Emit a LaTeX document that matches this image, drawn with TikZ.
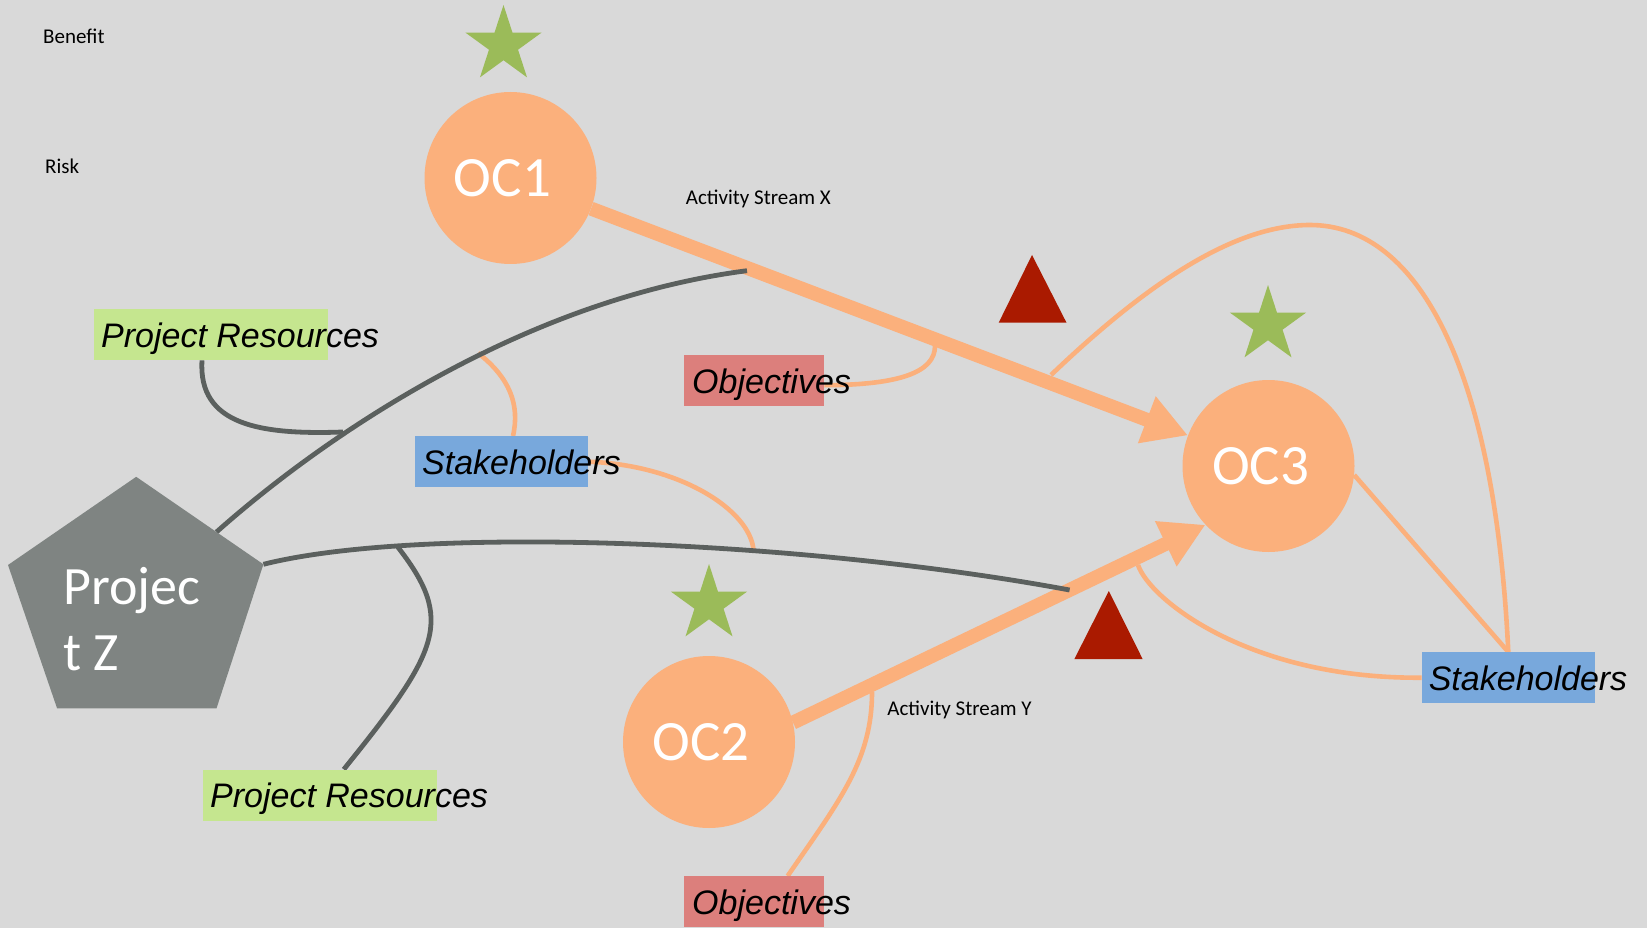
\documentclass[tikz,border=0pt]{standalone}
\usepackage{fontspec}
\setmainfont{Carlito}
\newfontfamily\arialf{Liberation Sans}
\usetikzlibrary{arrows.meta,shapes.geometric}
\definecolor{bgc}{HTML}{D9D9D9}
\definecolor{ocor}{HTML}{FBB07C}
\definecolor{stargreen}{HTML}{9BBB59}
\definecolor{trired}{HTML}{AA1A00}
\definecolor{pentgray}{HTML}{7F8482}
\definecolor{gline}{HTML}{5B605E}
\definecolor{prgreen}{HTML}{C5E68F}
\definecolor{shblue}{HTML}{78A8DC}
\definecolor{objred}{HTML}{DC7F7C}
\pgfdeclarelayer{back}
\pgfdeclarelayer{conn}
\pgfsetlayers{back,conn,main}
\tikzset{
  ocnode/.style={circle, fill=ocor, minimum size=172pt, inner sep=0pt, text=white, font=\fontsize{57}{60}\selectfont},
  lbl/.style={anchor=north west, inner sep=0pt, minimum height=51pt, text depth=0pt, font=\arialf\itshape\fontsize{34}{40}\selectfont},
  small/.style={anchor=base west, inner sep=0pt, font=\fontsize{21}{25}\selectfont},
  graycon/.style={draw=gline, line width=4.8pt},
  orcon/.style={draw=ocor, line width=4.6pt},
  bigarrow/.style={draw=ocor, line width=14pt, -{Triangle[length=44pt,width=47pt]}},
  starnode/.style={star, star points=5, star point ratio=2.618, fill=stargreen, inner sep=0pt, minimum size=80pt},
  tri/.style={fill=trired}
}
\begin{document}
\begin{tikzpicture}[x=1pt,y=-1pt]
\begin{pgfonlayer}{back}
\fill[bgc] (0,0) rectangle (1647,928);
\end{pgfonlayer}
\useasboundingbox (0,0) rectangle (1647,928);

% small texts
\node[small] (benefit) at (43,43.3) {Benefit};
\node[small] (risk) at (45,174) {Risk};
\node[small] (asx) at (685.7,204.3) {Activity Stream X};
\node[small] (asy) at (887.2,715.7) {Activity Stream Y};

% pentagon
\fill[pentgray] (136.2,476.8) -- (263.4,564.3) coordinate (pzr) -- (216.5,708.4) -- (57.1,708.4) -- (8,565) -- cycle;
\coordinate (pze) at (216.5,532);
\node[anchor=north west, align=left, inner sep=0pt, text=white, font=\fontsize{54}{65.7}\selectfont] (pz) at (63,567) {Projec\\t Z};

% circles
\node[ocnode] (oc1) at (510.5,178) {\hspace*{-16pt}OC1};
\node[ocnode] (oc3) at (1268.5,466) {\hspace*{-16pt}OC3};
\node[ocnode] (oc2) at (709,742) {\hspace*{-16pt}OC2};

% stars
\node[starnode] (st1) at (503.5,45) {};
\node[starnode] (st3) at (1268,325) {};
\node[starnode] (st2) at (709,604) {};

% triangles
\fill[tri] (1032,255) -- (1066.5,322.7) -- (998.7,322.7) -- cycle;
\fill[tri] (1108.8,591) -- (1142.6,659) -- (1074.4,659) -- cycle;

% labels
\node[lbl, fill=prgreen] (pr1) at (94,309) {\makebox[234pt][l]{\hspace*{7pt}Project Resources}};
\node[lbl, fill=prgreen] (pr2) at (203,769.4) {\makebox[234pt][l]{\hspace*{7pt}Project Resources}};
\node[lbl, fill=shblue] (sh1) at (415,436) {\makebox[173pt][l]{\hspace*{7pt}Stakeholders}};
\node[lbl, fill=shblue] (sh2) at (1421.6,652) {\makebox[173pt][l]{\hspace*{7pt}Stakeholders}};
\node[lbl, fill=objred] (obj1) at (684,355) {\makebox[140pt][l]{\hspace*{8pt}Objectives}};
\node[lbl, fill=objred] (obj2) at (684,876) {\makebox[140pt][l]{\hspace*{8pt}Objectives}};

% junction coordinates
\coordinate (g1e) at (747,270.7);
\coordinate (g2e) at (1069.6,590);
\coordinate (j1) at (343,432);
\coordinate (j2) at (397,546);
\coordinate (j3) at (478,353);
\coordinate (j4) at (753.5,550);
\coordinate (ja) at (935,346);
\coordinate (jb) at (1051,375);
\coordinate (jc) at (872,692);
\coordinate (jd) at (1138,565);

\begin{pgfonlayer}{conn}
% thin orange connectors
\draw[orcon] ([yshift=-4.5pt]obj1.east) .. controls (900,385) and (935,372) .. (ja);
\draw[orcon] (jb) .. controls (1140,290) and (1230,225) .. (1310,225)
                  .. controls (1420,225) and (1495,372) .. (sh2.north);
\draw[orcon] (oc3.-6) -- (sh2.north);
\draw[orcon] (sh2.west) .. controls (1250,679) and (1150,600) .. (jd);
\draw[orcon] ([xshift=103.6pt]obj2.north west) .. controls (840,800) and (872,760) .. (jc);
\draw[orcon] ([xshift=98pt]sh1.north west) .. controls (520,405) and (510,378) .. (j3);
\draw[orcon] (sh1.east) .. controls (680,465) and (750,510) .. (j4);
% thick arrows
\draw[bigarrow] (oc1) -- (oc3);
\draw[bigarrow] (oc2.13) -- (oc3.223);
% gray connectors
\draw[graycon] (pze) .. controls (320,440) and (520,300) .. (g1e);
\draw[graycon] (pzr) .. controls (420,525) and (800,540) .. (g2e);
\draw[graycon] ([xshift=108pt]pr1.south west) .. controls (198,425) and (260,435) .. (j1);
\draw[graycon] ([xshift=140.75pt]pr2.north west) .. controls (440,650) and (455,620) .. (j2);
\end{pgfonlayer}
\end{tikzpicture}
\end{document}
